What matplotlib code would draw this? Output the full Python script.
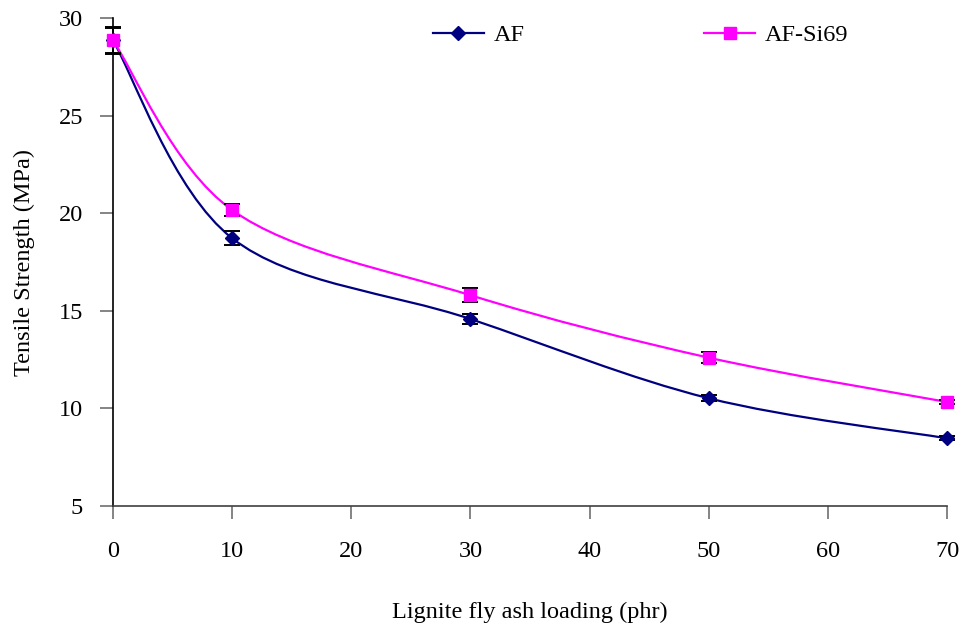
import numpy as np
import matplotlib
matplotlib.use("Agg")
import matplotlib.pyplot as plt
from matplotlib.path import Path
from matplotlib.patches import PathPatch
from matplotlib.lines import Line2D

loading = [0, 10, 30, 50, 70]
af = [28.85, 18.72, 14.58, 10.52, 8.47]
af_err = [0.70, 0.36, 0.28, 0.15, 0.10]
af_si69 = [28.85, 20.16, 15.80, 12.60, 10.33]
si69_err = [0.65, 0.30, 0.35, 0.28, 0.12]
xticks = [0, 10, 20, 30, 40, 50, 60, 70]
yticks = [5, 10, 15, 20, 25, 30]

plt.rcParams['font.family'] = ['Liberation Serif', 'DejaVu Serif']

fig = plt.figure(figsize=(9.63, 6.35), dpi=100)
ax = fig.add_axes([0.1173, 0.2031, 0.8661, 0.7686])


def smooth_path(xs, ys):
    pts = np.column_stack([xs, ys]).astype(float)
    n = len(pts)
    verts = [pts[0]]
    codes = [Path.MOVETO]
    for i in range(n - 1):
        p0 = pts[i - 1] if i > 0 else pts[i]
        p1 = pts[i]
        p2 = pts[i + 1]
        p3 = pts[i + 2] if i + 2 < n else pts[i + 1]
        c1 = p1 + (p2 - p0) / 6.0
        c2 = p2 - (p3 - p1) / 6.0
        verts += [c1, c2, p2]
        codes += [Path.CURVE4] * 3
    return Path(verts, codes)


for ys, err, color, marker, ms in [
    (af, af_err, '#000080', 'D', 7),
    (af_si69, si69_err, '#FF00FF', 's', 8),
]:
    ax.add_patch(PathPatch(smooth_path(loading, ys), facecolor='none',
                           edgecolor=color, lw=1.6, zorder=2, clip_on=False))
    eb = ax.errorbar(loading, ys, yerr=err, fmt='none', ecolor='black',
                     elinewidth=1.2, capsize=5.5, capthick=1.4, zorder=3)
    for art in eb.lines[1] + eb.lines[2]:
        art.set_clip_on(False)
    ax.plot(loading, ys, linestyle='none', marker=marker, color=color,
            markersize=ms, zorder=4, clip_on=False)

ax.set_xlim(0, 70)
ax.set_ylim(5, 30)
ax.set_xticks(xticks)
ax.set_yticks(yticks)
for s in ['top', 'right']:
    ax.spines[s].set_visible(False)
ax.spines['left'].set_color('black')
ax.spines['bottom'].set_color('#404040')
ax.spines['left'].set_linewidth(1.2)
ax.spines['bottom'].set_linewidth(1.2)
ax.tick_params(axis='both', direction='out', length=9.5, width=1.2,
               color='#707070', labelsize=17.5)
ax.tick_params(axis='x', pad=16)
ax.tick_params(axis='y', pad=12)

ax.set_xlabel('Lignite fly ash loading (phr)', fontsize=17.5, labelpad=28)
ax.set_ylabel('Tensile Strength (MPa)', fontsize=17.5, labelpad=17)

handles = [
    Line2D([], [], color='#000080', marker='D', markersize=7, lw=1.6),
    Line2D([], [], color='#FF00FF', marker='s', markersize=8, lw=1.6),
]
ax.legend(handles, ['AF', 'AF-Si69'], ncol=2, frameon=False, fontsize=17.5,
          loc='upper left', bbox_to_anchor=(0.357, 1.032), columnspacing=7.4,
          handlelength=2.1, handletextpad=0.4)

fig.savefig('out.png', dpi=100)
